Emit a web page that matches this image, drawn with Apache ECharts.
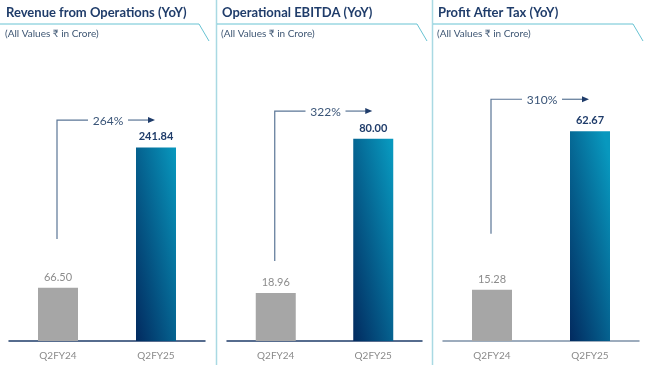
<!DOCTYPE html>
<html><head><meta charset="utf-8">
<script src="https://cdn.jsdelivr.net/npm/echarts@6/dist/echarts.min.js"></script>
<style>html,body{margin:0;padding:0;background:#fff}#c{width:653px;height:365px}</style>
</head><body><div id="c"></div>
<script>
// ---- data ----
const categories = ['Q2FY24', 'Q2FY25'];
const panelTitles = ['Revenue from Operations (YoY)', 'Operational EBITDA (YoY)', 'Profit After Tax (YoY)'];
const subtitleText = '(All Values ₹ in Crore)';
const revenue = [66.50, 241.84];
const ebitda = [18.96, 80.00];
const pat = [15.28, 62.67];
const growthLabels = ['264%', '322%', '310%'];

// ---- layout (not data) ----
const panels = [
  {values: revenue, left: 9,   width: 196, max: 376, axisColor: '#1f3c6a', arrow: [127.5, 276], hx0: 0,   hx1: 199, tx: 6},
  {values: ebitda,  left: 227, width: 195, max: 119, axisColor: '#1f3c6a', arrow: [31.6, 90.9], hx0: 217, hx1: 417, tx: 222},
  {values: pat,     left: 443, width: 196, max: 89.9, axisColor: '#7d91a8', arrow: [32, 72.2],  hx0: 433, hx1: 633, tx: 438}
];
const FONT = 'Lato, "Noto Sans", sans-serif';
const gridTop = 40, gridH = 301;

const grad = new echarts.graphic.LinearGradient(0, 1, 1.9, 0.92, [
  {offset: 0, color: '#022a5f'},
  {offset: 1, color: '#0898be'}
]);

const chart = echarts.init(document.getElementById('c'), null, {renderer: 'canvas'});

const option = {
  animation: false,
  backgroundColor: '#fff',
  grid: panels.map(p => ({left: p.left, width: p.width, top: gridTop, height: gridH})),
  xAxis: panels.map((p, i) => ({
    type: 'category', gridIndex: i, data: categories,
    axisLine: {show: true, lineStyle: {color: p.axisColor, width: 1.5}},
    axisTick: {show: false},
    axisLabel: {color: '#8a8a8a', fontSize: 10, fontFamily: FONT, margin: 10}
  })),
  yAxis: panels.map((p, i) => ({
    type: 'value', gridIndex: i, min: 0, max: p.max, show: false, splitLine: {show: false}
  })),
  series: panels.map((p, i) => ({
    type: 'bar', xAxisIndex: i, yAxisIndex: i, barWidth: 40,
    data: p.values.map((v, j) => ({
      value: v,
      itemStyle: {color: j === 0 ? '#a6a6a6' : grad},
      label: j === 0
        ? {color: '#8c8c8c', fontWeight: 'normal', fontSize: 11}
        : {color: '#1f3c6a', fontWeight: 'bold', fontSize: 11}
    })),
    label: {show: true, position: 'top', distance: 5, fontFamily: FONT,
            formatter: d => d.value.toFixed(2)}
  }))
};
chart.setOption(option);

// decorations
const g = [];
[216.5, 432.5].forEach(x => g.push({type: 'line', shape: {x1: x, y1: 0, x2: x, y2: 365},
  style: {stroke: '#a9d9e3', lineWidth: 1.5}, silent: true}));
panels.forEach((p, i) => {
  g.push({type: 'text', x: p.tx, y: 13, style: {text: panelTitles[i], fill: '#1f3c6a',
    font: 'bold 13px ' + FONT, textVerticalAlign: 'middle'}});
  g.push({type: 'text', x: p.tx - 1, y: 34, style: {text: subtitleText, fill: '#3e5673',
    font: '10px ' + FONT, textVerticalAlign: 'middle'}});
  g.push({type: 'polyline', shape: {points: [[p.hx0, 24], [p.hx1, 24], [p.hx1 + 10, 41]]},
    style: {stroke: '#68c3d3', lineWidth: 1, fill: null}});
  const a0 = chart.convertToPixel({gridIndex: i}, [0, p.arrow[0]]);
  const a1 = chart.convertToPixel({gridIndex: i}, [0, p.arrow[1]]);
  const b1 = chart.convertToPixel({gridIndex: i}, [1, p.arrow[1]]);
  const xv = a0[0] - 1, yb = a0[1], yt = a1[1];
  const tip = b1[0] - 1;
  const mid = (a0[0] + b1[0]) / 2 + 1;
  g.push({type: 'polyline', shape: {points: [[xv, yb], [xv, yt], [mid - 20, yt]]},
    style: {stroke: '#5b7696', lineWidth: 1.2, fill: null}});
  g.push({type: 'line', shape: {x1: mid + 20, y1: yt, x2: tip - 6, y2: yt},
    style: {stroke: '#5b7696', lineWidth: 1.2}});
  g.push({type: 'polygon', shape: {points: [[tip - 7, yt - 3], [tip, yt], [tip - 7, yt + 3]]},
    style: {fill: '#1f3c6a'}});
  g.push({type: 'text', x: mid, y: yt + 1, style: {text: growthLabels[i], fill: '#3a5578',
    font: '12px ' + FONT, textAlign: 'center', textVerticalAlign: 'middle'}});
});
chart.setOption({graphic: g});
</script>
</body></html>
